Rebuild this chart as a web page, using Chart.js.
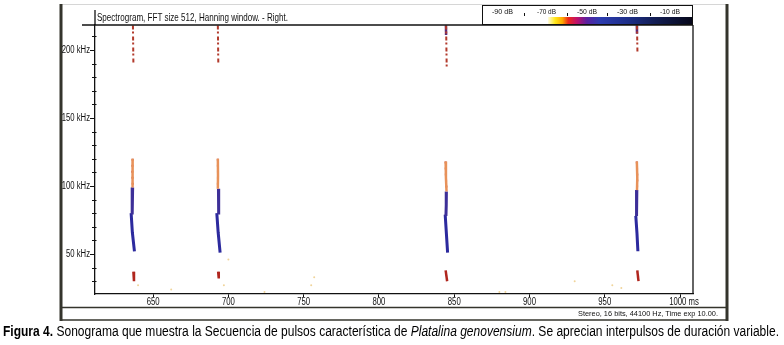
<!DOCTYPE html>
<html>
<head>
<meta charset="utf-8">
<script src="https://cdn.jsdelivr.net/npm/chart.js@4.4.0/dist/chart.umd.min.js"></script>
<style>
body { margin: 0; background: #fff; }
#wrap { position: relative; width: 784px; height: 345px; overflow: hidden;
  font-family: 'Liberation Sans', Arial, sans-serif; }
#c { position: absolute; left: 0; top: 0; }
.t { position: absolute; white-space: nowrap; transform-origin: 0 0; line-height: 1; color: #111; }
#bar { position: absolute; left: 548px; top: 17px; width: 144px; height: 7px;
  background: linear-gradient(to right, #fffbe0 0%, #ffe818 5%, #ffa800 10%, #ee2a1a 14%, #c0106a 20%,
    #5a20a0 27%, #2d3cb0 36%, #1e2f8a 55%, #121d52 75%, #07081a 100%); }
</style>
</head>
<body>
<div id="wrap">
  <canvas id="c" width="784" height="345"></canvas>
  <div id="bar"></div>
  <div class="t" id="title" style="left:97px;top:12px;font-size:11px;">Spectrogram, FFT size 512, Hanning window. - Right.</div>
  <div class="t cb" data-x="492" data-w="21" style="top:8px;font-size:8px;">-90 dB</div>
  <div class="t cb" data-x="537" data-w="19" style="top:8px;font-size:8px;">-70 dB</div>
  <div class="t cb" data-x="577" data-w="20" style="top:8px;font-size:8px;">-50 dB</div>
  <div class="t cb" data-x="617" data-w="21" style="top:8px;font-size:8px;">-30 dB</div>
  <div class="t cb" data-x="660" data-w="20" style="top:8px;font-size:8px;">-10 dB</div>
  <div class="t" id="status" style="top:310px;font-size:8px;">Stereo, 16 bits, 44100 Hz, Time exp 10.00.</div>
  <div class="t" id="caption" style="left:3px;top:324px;font-size:14px;color:#000;"><b>Figura 4.</b> Sonograma que muestra la Secuencia de pulsos característica de <i>Platalina genovensium</i>. Se aprecian interpulsos de duración variable.</div>
</div>
<script>
// axis ranges and ticks (ms, kHz)
const xMin = 611.4, xMax = 1008.6;
const yMin = 20.6, yMax = 218.4;
const xTicks = [650, 700, 750, 800, 850, 900, 950, 1000];
const yTicks = [50, 100, 150, 200];
const yMinor = [30, 40, 60, 70, 80, 90, 110, 120, 130, 140, 160, 170, 180, 190, 210];

// pulses, [ms, kHz] points
const harmonic = [
  [[636.6, 218], [636.9, 190]],
  [[693.0, 218], [693.3, 190]],
  [[844.6, 218], [845.0, 187]],
  [[971.4, 218], [971.7, 198]]
];
const harmonicTop = [
  [[844.5, 218], [844.6, 211]],
  [[971.3, 218], [971.4, 212]]
];
const upperBand = [
  [[636.4, 120], [636.2, 110], [636.5, 99]],
  [[693.0, 120], [693.1, 108], [693.0, 98]],
  [[844.3, 118], [844.5, 106], [844.9, 96]],
  [[971.3, 118], [971.6, 106], [971.4, 97]]
];
const blueUpper = [
  [[636.4, 99], [636.0, 88], [636.2, 79]],
  [[693.4, 98], [693.5, 88], [693.6, 79]],
  [[844.8, 96], [844.7, 86], [844.5, 78]],
  [[971.3, 97], [971.2, 86], [971.0, 78]]
];
const blueLower = [
  [[635.4, 80], [636.2, 66], [637.6, 52]],
  [[692.3, 80], [693.2, 66], [694.5, 51]],
  [[844.0, 79], [844.8, 65], [845.6, 51]],
  [[970.6, 78], [971.4, 65], [972.0, 52]]
];
const lowBlip = [
  [[636.9, 37], [637.3, 30]],
  [[693.2, 37], [693.6, 32]],
  [[844.3, 38], [845.3, 30]],
  [[971.6, 38], [972.4, 30]]
];
const noise = [[640, 27], [662, 24], [697, 27], [700, 46], [724, 22], [755, 27], [757, 33],
  [880, 22], [884, 22], [930, 30], [955, 27], [961, 25]];

const pt = p => ({ x: p[0], y: p[1] });

function streak(points, color, width, dash) {
  return {
    data: points.map(pt),
    showLine: true,
    borderColor: color,
    borderWidth: width,
    borderDash: dash || [],
    pointRadius: 0,
    borderCapStyle: 'butt'
  };
}

let datasets = [];
harmonic.forEach(s => datasets.push(streak(s, '#b23a2c', 2, [4, 2, 2, 3])));
harmonicTop.forEach(s => datasets.push(streak(s, '#5a2a7a', 2.5)));
upperBand.forEach(s => datasets.push(streak(s, '#e8925a', 2.5)));
upperBand.forEach(s => datasets.push(streak(s, '#b8322a', 2, [2, 4])));
blueUpper.forEach(s => datasets.push(streak(s, '#3d2f98', 3)));
blueLower.forEach(s => datasets.push(streak(s, '#2c2a9e', 3)));
lowBlip.forEach(s => datasets.push(streak(s, '#b0261e', 2.5)));
datasets.push({
  data: noise.map(pt),
  pointRadius: 1,
  pointBackgroundColor: '#f0d49a',
  pointBorderWidth: 0
});

// narrow labels: the figure's text is horizontally squeezed
function squeezed(ctx, text, x, y, align, sx) {
  ctx.save();
  ctx.translate(x, y);
  ctx.scale(sx, 1);
  ctx.textAlign = align;
  ctx.fillText(text, 0, 0);
  ctx.restore();
}

const frame = {
  id: 'frame',
  beforeDraw(chart) {
    const ctx = chart.ctx;
    ctx.save();
    ctx.fillStyle = '#fff';
    ctx.fillRect(0, 0, chart.width, chart.height);
    ctx.restore();
  },
  afterDraw(chart) {
    const ctx = chart.ctx, a = chart.chartArea, x = chart.scales.x, y = chart.scales.y;
    const line = (x1, y1, x2, y2) => { ctx.beginPath(); ctx.moveTo(x1, y1); ctx.lineTo(x2, y2); ctx.stroke(); };
    ctx.save();
    ctx.strokeStyle = '#d6d6d6'; ctx.lineWidth = 1;
    line(61, 4.5, 727, 4.5);
    ctx.strokeStyle = '#34342c'; ctx.lineWidth = 3;
    line(61, 4, 61, 321); line(727, 4, 727, 321);
    ctx.lineWidth = 1.5;
    line(61, 307.5, 727, 307.5); line(61, 320, 727, 320);
    // plot box and title box corner
    ctx.strokeStyle = '#111'; ctx.lineWidth = 1.3;
    line(82, a.top, a.right, a.top);
    line(a.right, a.top, a.right, a.bottom);
    line(a.left, 10, a.left, a.top);
    // minor frequency ticks
    ctx.lineWidth = 1;
    yMinor.forEach(v => { const p = Math.round(y.getPixelForValue(v)) + 0.5; line(a.left - 3, p, a.left + 1.5, p); });
    // tick labels
    ctx.fillStyle = '#111';
    ctx.font = '10px "Liberation Sans", Arial';
    ctx.textBaseline = 'middle';
    yTicks.forEach(v => squeezed(ctx, v + ' kHz', a.left - 5, y.getPixelForValue(v), 'right', 0.77));
    ctx.font = '10.5px "Liberation Sans", Arial';
    ctx.textBaseline = 'top';
    xTicks.forEach(v => squeezed(ctx, v === 1000 ? '1000 ms' : String(v), x.getPixelForValue(v) + (v === 1000 ? 4 : 0),
      a.bottom + 3, 'center', 0.74));
    // colour bar box
    ctx.strokeStyle = '#111'; ctx.lineWidth = 1;
    ctx.strokeRect(482.5, 5.5, 210, 19);
    [524, 567, 607, 650].forEach(px => line(px + 0.5, 13, px + 0.5, 16));
    ctx.restore();
  }
};

new Chart(document.getElementById('c'), {
  type: 'scatter',
  data: { datasets: datasets },
  plugins: [frame],
  options: {
    responsive: false,
    animation: false,
    devicePixelRatio: 1,
    layout: { padding: { left: 55, top: 25, right: 91, bottom: 31 } },
    plugins: { legend: { display: false }, tooltip: { enabled: false } },
    scales: {
      x: {
        type: 'linear', min: xMin, max: xMax,
        afterBuildTicks: s => { s.ticks = xTicks.map(v => ({ value: v })); },
        afterFit: s => { s.height = 20; },
        ticks: { display: false },
        grid: { drawOnChartArea: false, tickLength: 3, color: '#111' },
        border: { color: '#111', width: 1.3 }
      },
      y: {
        type: 'linear', min: yMin, max: yMax,
        afterBuildTicks: s => { s.ticks = yTicks.map(v => ({ value: v })); },
        afterFit: s => { s.width = 40; },
        ticks: { display: false },
        grid: { drawOnChartArea: false, tickLength: 5, color: '#111' },
        border: { color: '#111', width: 1.3 }
      }
    }
  }
});

// squeeze texts to the widths measured on the figure
function fit(el, w) {
  el.style.transform = 'none';
  const r = el.getBoundingClientRect().width;
  el.style.transform = 'scaleX(' + (w / r) + ')';
}
fit(document.getElementById('title'), 191);
document.querySelectorAll('.cb').forEach(el => {
  el.style.left = el.dataset.x + 'px';
  fit(el, +el.dataset.w);
});
const st = document.getElementById('status');
st.style.left = (718 - 140) + 'px';
fit(st, 140);
fit(document.getElementById('caption'), 776);
</script>
</body>
</html>
